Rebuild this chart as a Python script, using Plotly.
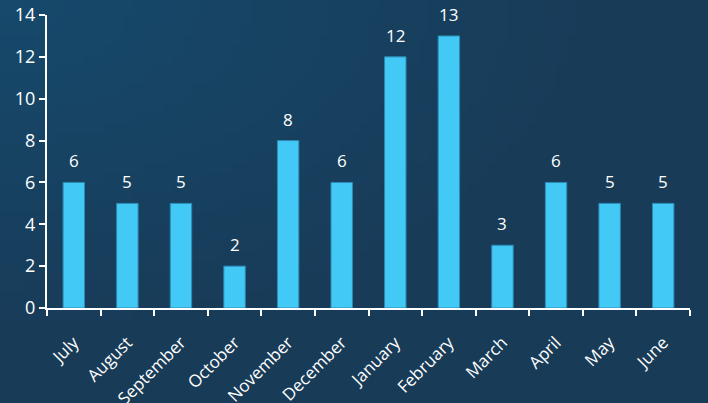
import base64
import struct
import zlib

import plotly.graph_objects as go

months = ["July", "August", "September", "October", "November", "December",
          "January", "February", "March", "April", "May", "June"]
counts = [6, 5, 5, 2, 8, 6, 12, 13, 3, 6, 5, 5]
y_ticks = [0, 2, 4, 6, 8, 10, 12, 14]

W, H = 708, 403
M_L, M_R, M_T, M_B = 47, 18, 15, 95


def gradient_png(w, h, c0, c1):
    """Small PNG with a radial fade from the top-left corner."""
    rows = b""
    maxd = (1.0 ** 2 + 1.0 ** 2) ** 0.5
    for j in range(h):
        row = b"\x00"
        for i in range(w):
            d = ((i / (w - 1)) ** 2 + (j / (h - 1)) ** 2) ** 0.5 / maxd
            t = min(1.0, d * 1.6)
            px = bytes(int(round(c0[k] + (c1[k] - c0[k]) * t)) for k in range(3))
            row += px
        rows += row

    def chunk(tag, data):
        return (struct.pack(">I", len(data)) + tag + data
                + struct.pack(">I", zlib.crc32(tag + data) & 0xFFFFFFFF))

    png = b"\x89PNG\r\n\x1a\n"
    png += chunk(b"IHDR", struct.pack(">IIBBBBB", w, h, 8, 2, 0, 0, 0))
    png += chunk(b"IDAT", zlib.compress(rows, 9))
    png += chunk(b"IEND", b"")
    return "data:image/png;base64," + base64.b64encode(png).decode()


bg = gradient_png(72, 41, (22, 73, 108), (24, 59, 87))

plot_w = W - M_L - M_R
plot_h = H - M_T - M_B

fig = go.Figure(go.Bar(
    x=months,
    y=counts,
    width=0.4,
    marker=dict(color="#43c9f6", line=dict(color="#2c8ab3", width=1)),
    hoverinfo="x+y",
))

for m, v in zip(months, counts):
    fig.add_annotation(x=m, y=v, text=str(v), showarrow=False,
                       yanchor="bottom", yshift=8,
                       font=dict(size=17, color="white", family="Open Sans"))

fig.add_layout_image(
    source=bg, xref="paper", yref="paper",
    x=-M_L / plot_w, y=1 + M_T / plot_h,
    sizex=W / plot_w, sizey=H / plot_h,
    xanchor="left", yanchor="top", sizing="stretch", layer="below",
)

fig.update_layout(
    width=W, height=H,
    margin=dict(l=M_L, r=M_R, t=M_T, b=M_B, autoexpand=False),
    paper_bgcolor="#183c58",
    plot_bgcolor="rgba(0,0,0,0)",
    font=dict(family="Open Sans", color="white"),
    showlegend=False,
    bargap=0.6,
)

fig.update_xaxes(
    type="category",
    automargin=False,
    tickson="boundaries",
    ticks="outside", ticklen=6, tickwidth=2, tickcolor="white",
    showline=True, linecolor="white", linewidth=2,
    showgrid=False, zeroline=False,
    tickangle=-45,
    ticklabelstandoff=16,
    tickfont=dict(size=17, color="white", family="Open Sans"),
)

fig.update_yaxes(
    automargin=False,
    range=[0, 14],
    tickvals=y_ticks,
    ticks="outside", ticklen=6, tickwidth=2, tickcolor="white",
    showline=True, linecolor="white", linewidth=2,
    showgrid=False, zeroline=False,
    tickfont=dict(size=18, color="white", family="Open Sans"),
)

fig.write_html("out.html")
